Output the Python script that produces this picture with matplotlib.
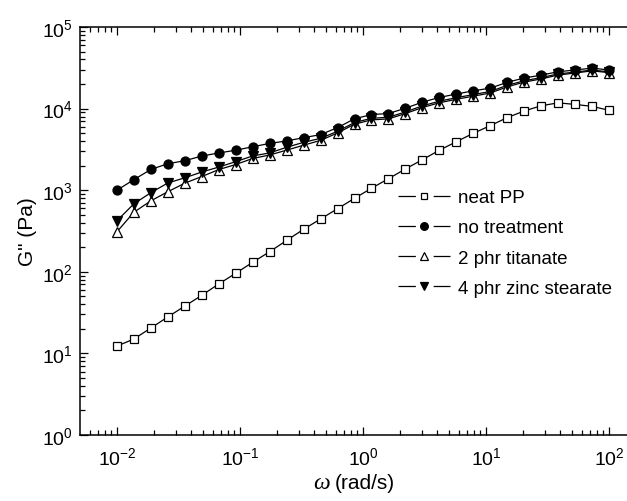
import matplotlib
matplotlib.use("Agg")
import matplotlib.pyplot as plt
from matplotlib.ticker import LogLocator, NullFormatter

plt.rcParams['font.family'] = ['Liberation Sans', 'DejaVu Sans']
plt.rcParams['mathtext.default'] = 'regular'
plt.rcParams['lines.scale_dashes'] = False

omega = [0.0100, 0.0137, 0.0189, 0.0259, 0.0356, 0.0489, 0.0672, 0.0924, 0.127, 0.174,
         0.240, 0.329, 0.452, 0.621, 0.853, 1.17, 1.61, 2.21, 3.04, 4.18,
         5.74, 7.88, 10.8, 14.9, 20.4, 28.1, 38.6, 53.0, 72.8, 100.0]

neat_pp = [12.3, 15, 20.5, 28, 38, 51.5, 71, 96, 131, 176,
           243, 332, 444, 593, 795, 1055, 1382, 1820, 2366, 3090,
           3930, 4980, 6170, 7760, 9340, 10840, 11760, 11250, 10650, 9540]

no_treatment = [1000, 1345, 1800, 2110, 2300, 2620, 2860, 3090, 3410, 3740,
                4020, 4400, 4800, 5850, 7500, 8450, 8700, 10100, 12000, 13700,
                15100, 16500, 17800, 21000, 23700, 25700, 28300, 29700, 31400, 29700]

titanate = [310, 536, 743, 957, 1220, 1470, 1790, 2065, 2450, 2700,
            3100, 3560, 4080, 5030, 6450, 7270, 7480, 8690, 10300, 11800,
            13000, 14200, 15500, 18500, 21100, 23100, 25800, 27300, 29000, 27600]

zinc_stearate = [423, 680, 935, 1225, 1420, 1670, 1920, 2240, 2630, 2860,
                 3360, 3860, 4320, 5270, 6750, 7600, 7830, 9090, 10800, 12330,
                 13600, 14850, 16200, 19300, 21900, 24000, 26600, 28000, 29700, 28200]

labels = ["neat PP", "no treatment", "2 phr titanate", "4 phr zinc stearate"]

fig = plt.figure(figsize=(6.27, 5.02), dpi=100)
ax = fig.add_axes([80/627, 1-436/502, 1-80/627, (436-28)/502])

lw = 0.9
ax.plot(omega, neat_pp, color='black', lw=lw, marker='s', ms=5.6, mfc='white',
        mec='black', mew=0.9, label=labels[0], zorder=3)
ax.plot(omega, titanate, color='black', lw=lw, marker='^', ms=7, mfc='white',
        mec='black', mew=0.9, label=labels[2], zorder=3)
ax.plot(omega, zinc_stearate, color='black', lw=lw, marker='v', ms=7, mfc='black',
        mec='black', mew=0.9, label=labels[3], zorder=4)
ax.plot(omega, no_treatment, color='black', lw=lw, marker='o', ms=6.5, mfc='black',
        mec='black', mew=0.9, label=labels[1], zorder=5)

ax.set_xscale('log')
ax.set_yscale('log')
ax.set_xlim(10**(-2 - 37/123), 10**(2 + 18/123))
ax.set_ylim(1, 1e5)

ax.xaxis.set_major_locator(LogLocator(base=10, numticks=20))
ax.xaxis.set_minor_locator(LogLocator(base=10, subs=range(2, 10), numticks=20))
ax.xaxis.set_minor_formatter(NullFormatter())
ax.yaxis.set_major_locator(LogLocator(base=10, numticks=20))
ax.yaxis.set_minor_locator(LogLocator(base=10, subs=range(2, 10), numticks=20))
ax.yaxis.set_minor_formatter(NullFormatter())

ax.spines['right'].set_visible(False)
for s in ['left', 'bottom', 'top']:
    ax.spines[s].set_linewidth(1.1)

ax.tick_params(which='both', direction='in', top=True, right=False, labelsize=14, width=0.9)
ax.tick_params(which='major', length=6)
ax.tick_params(which='minor', length=3.5)
ax.tick_params(axis='x', pad=8)
ax.tick_params(axis='y', pad=5)

# x label: italic serif omega followed by the unit text
fig.text(322/627, 1-484/502, '\u03c9', fontsize=17, family=['Liberation Serif', 'DejaVu Serif'],
         style='italic', ha='center', va='center')
fig.text(335/627, 1-484/502, '(rad/s)', fontsize=15, ha='left', va='center')
ax.set_ylabel('G" (Pa)', fontsize=15, labelpad=4)

handles, labs = ax.get_legend_handles_labels()
order = [labs.index(l) for l in labels]
leg = ax.legend([handles[i] for i in order], [labs[i] for i in order],
                loc='upper left', bbox_to_anchor=(398/627, 1-190/502),
                bbox_transform=fig.transFigure, frameon=False, fontsize=13.5,
                handlelength=2.8, handletextpad=0.4, labelspacing=0.7,
                borderpad=0, borderaxespad=0)
for h in leg.legend_handles:
    h.set_markersize(h.get_markersize() * 0.85)
    h.set_linestyle((0, (12.5, 12.8, 12.5, 12.8)))

fig.savefig('out.png', dpi=100)
